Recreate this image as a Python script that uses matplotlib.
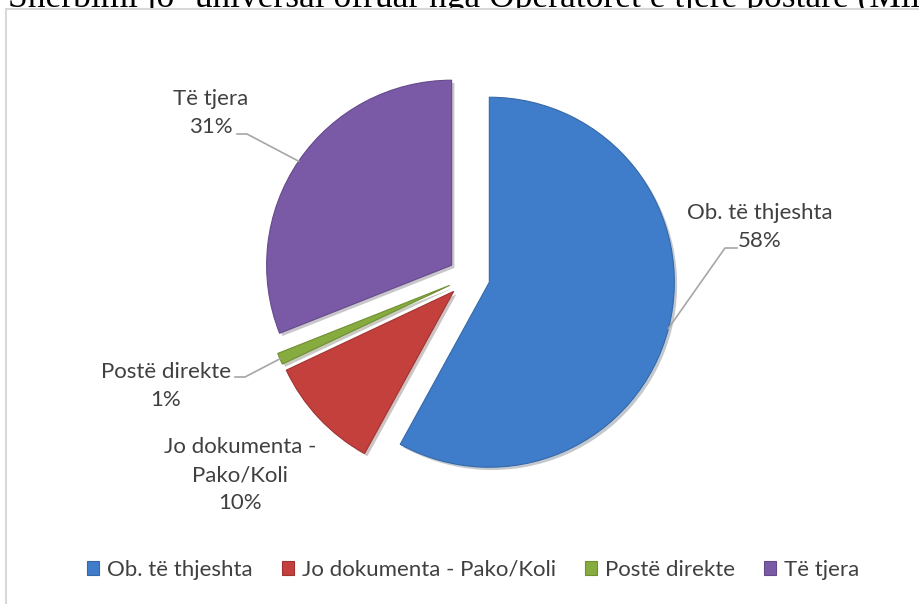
import numpy as np
import matplotlib
matplotlib.use("Agg")
import matplotlib.pyplot as plt
from matplotlib.patches import Patch, Rectangle
import matplotlib.patheffects as pe

categories = ["Ob. të thjeshta", "Jo dokumenta - Pako/Koli", "Postë direkte", "Të tjera"]
label_text = ["Ob. të thjeshta", "Jo dokumenta -\nPako/Koli", "Postë direkte", "Të tjera"]
shares = [58, 10, 1, 31]
colors = ["#3f7dcb", "#c3403c", "#86ab3e", "#7a5aa6"]
edges = ["#3468a8", "#a03330", "#6f8f33", "#654a8a"]
title = "Shërbimi jo- universal ofruar nga Operatorët e tjerë postare (Milionë)"

W, H = 920, 604
plt.rcParams["font.family"] = ["Lato", "DejaVu Sans"]
txt_color = "#404040"
fs = 16

fig = plt.figure(figsize=(W / 100, H / 100), dpi=100)
ax = fig.add_axes([0, 0, 1, 1])

# clipped document title behind the chart frame
ax.text(8, H - 7, title, family="Liberation Serif", fontsize=25.5, color="black",
        va="baseline", ha="left", zorder=0)
ax.add_patch(Rectangle((6, -5), W + 10, H - 9 + 5, facecolor="white",
                       edgecolor="#d9d9d9", lw=1.5, zorder=1))

wedges, _ = ax.pie(shares, colors=colors, startangle=90, counterclock=False,
                   explode=[21] * len(shares), radius=185, center=(469, H - 277))
for w, ec in zip(wedges, edges):
    w.set_zorder(2)
    w.set_edgecolor(ec)
    w.set_linewidth(0.8)
    w.set_path_effects([pe.SimplePatchShadow(offset=(2, -2), alpha=0.25), pe.Normal()])

ax.set_xlim(0, W)
ax.set_ylim(0, H)
ax.set_aspect("equal")
ax.axis("off")

# data labels: (text centre, elbow of leader, end of stub) in pixels from top-left
label_pos = [(760, 227), (240, 475), (166, 386), (211, 113)]
leaders = [((725, 248), (737, 248)), None, ((245, 377), (235, 377)), ((247, 134), (237, 134))]

for w, lab, s, pos, ld in zip(wedges, label_text, shares, label_pos, leaders):
    ax.text(pos[0], H - pos[1], f"{lab}\n{s}%", ha="center", va="center",
            fontsize=fs, color=txt_color, linespacing=1.47, zorder=4)
    if ld is None:
        continue
    tm = np.deg2rad((w.theta1 + w.theta2) / 2)
    cx, cy = w.center
    px, py = cx + w.r * np.cos(tm), cy + w.r * np.sin(tm)
    ax.plot([px, ld[0][0], ld[1][0]], [py, H - ld[0][1], H - ld[1][1]],
            color="#a6a6a6", lw=1.2, zorder=3)

handles = [Patch(facecolor=c, edgecolor=ec, lw=0.8) for c, ec in zip(colors, edges)]
ax.legend(handles, categories, loc="center", bbox_to_anchor=(473 / W, 1 - 570 / H),
          ncol=4, frameon=False, fontsize=fs, labelcolor=txt_color,
          handlelength=0.55, handleheight=0.55, handletextpad=0.35, columnspacing=1.3)

fig.savefig("out.png", dpi=100)
